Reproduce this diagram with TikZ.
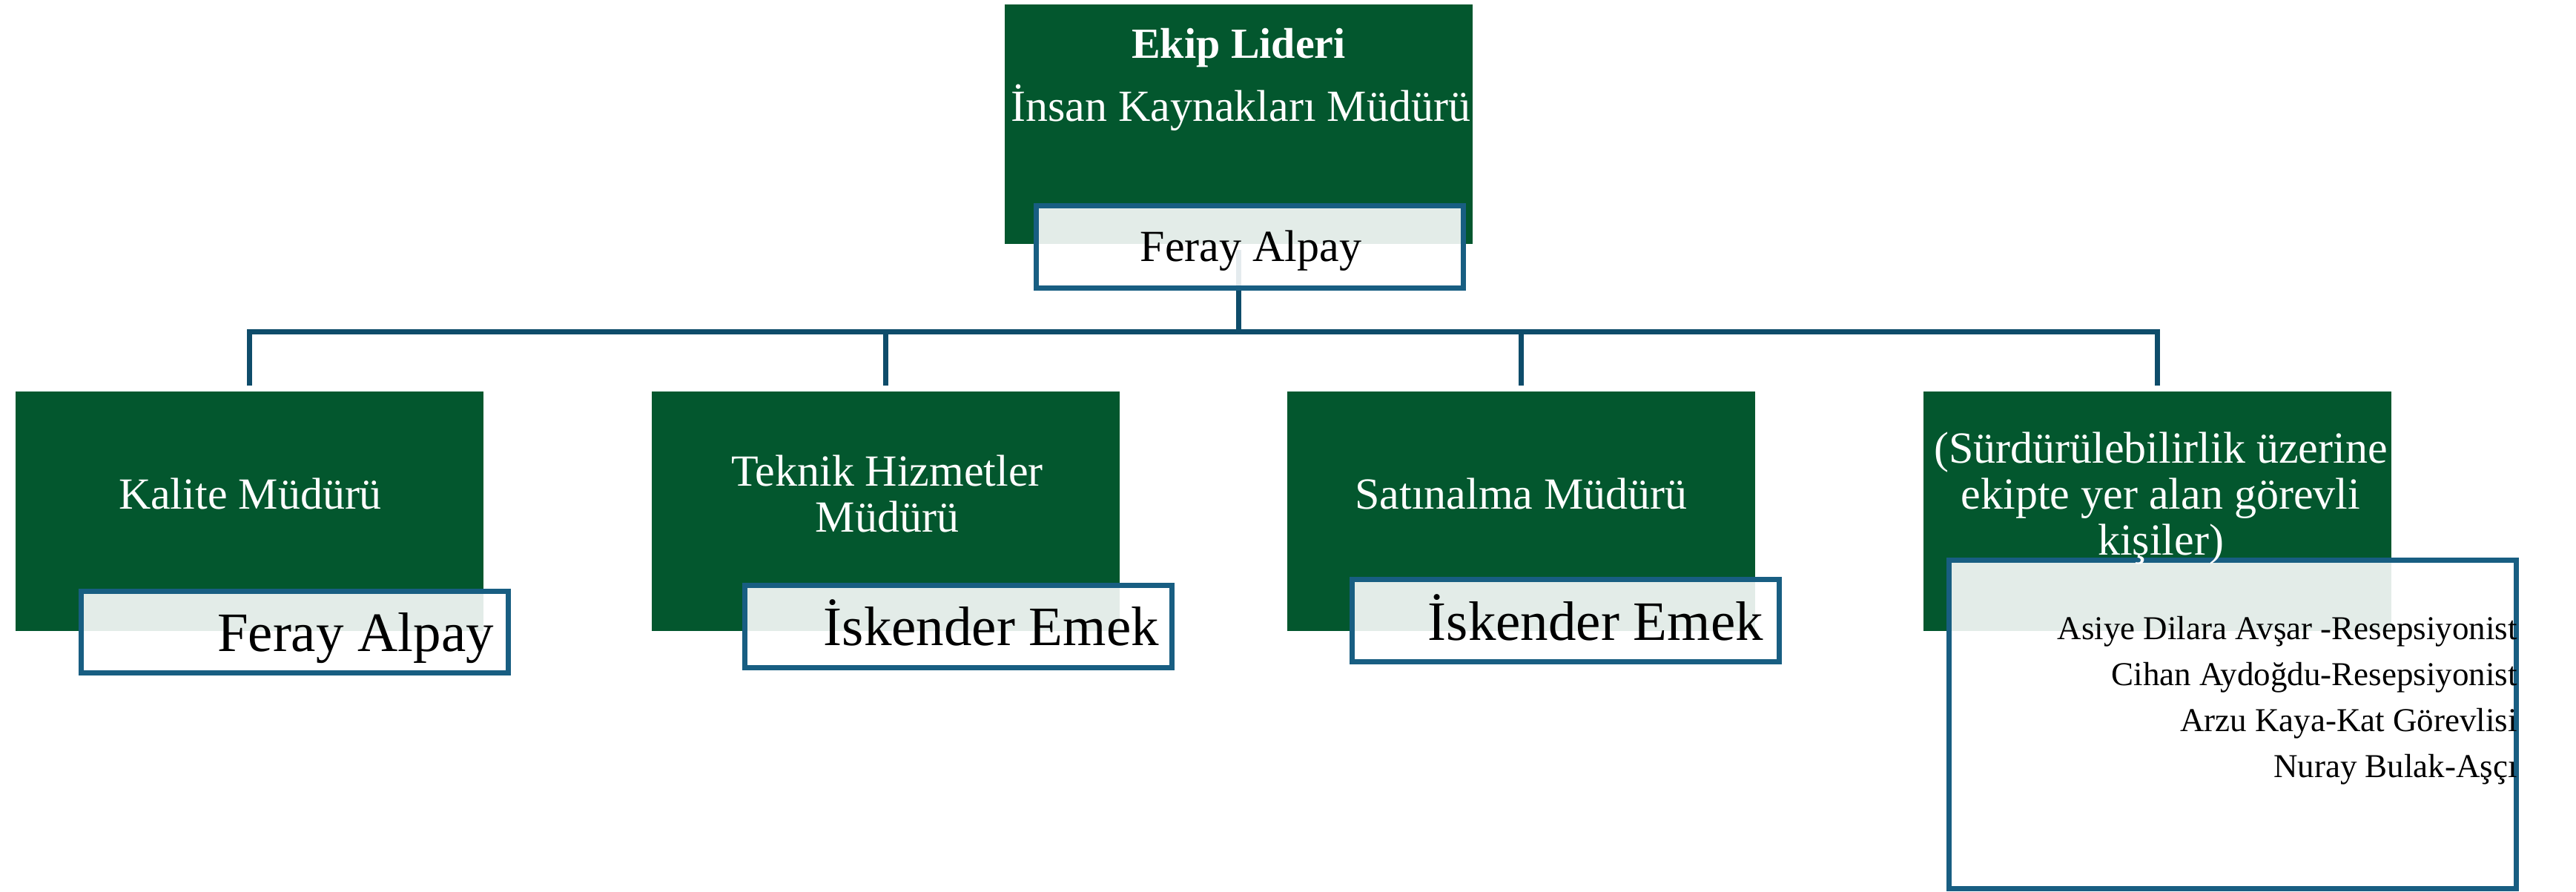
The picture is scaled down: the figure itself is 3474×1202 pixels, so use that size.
\documentclass[tikz,border=0pt]{standalone}
\usepackage{fontspec}
\setmainfont{Liberation Serif}
\definecolor{gr}{RGB}{3,87,46}
\definecolor{bd}{RGB}{24,94,130}
\definecolor{cn}{RGB}{14,76,106}
\begin{document}
\begin{tikzpicture}[x=1pt,y=-1pt,
 greenbox/.style={fill=gr, draw=none, inner sep=0pt, outer sep=0pt, minimum width=631pt, minimum height=323pt},
 namebox/.style={fill=white, fill opacity=0.89, draw=bd, draw opacity=1, line width=7pt, inner sep=0pt, outer sep=0pt, minimum width=576pt, minimum height=111pt},
 conn/.style={draw=cn, line width=7pt, line join=miter},
 wtext/.style={text=white, inner sep=0pt, font=\fontsize{60}{62}\selectfont, align=center},
 ntext/.style={text=black, inner sep=0pt, font=\fontsize{75}{80}\selectfont}
]
\useasboundingbox (0,0) rectangle (3474,1202);
% green boxes
\node[greenbox] (g0) at (1670.5,167.5) {};
\node[greenbox] (g1) at (336.5,689.5) {};
\node[greenbox] (g2) at (1194,689.5) {};
\node[greenbox] (g3) at (2051.5,689.5) {};
\node[greenbox] (g4) at (2909,689.5) {};
% connectors
\coordinate (c0) at (1670.5,337);
\coordinate (hub) at (1670.5,447);
\draw[conn] (c0) -- (hub);
\draw[conn] ([yshift=8pt]g1.north) |- (hub);
\draw[conn] ([yshift=8pt]g2.north) |- (hub);
\draw[conn] ([yshift=8pt]g3.north) |- (hub);
\draw[conn] ([yshift=8pt]g4.north) |- (hub);
% name boxes
\node[namebox] (n0) at (1685.5,333) {};
\node[namebox, minimum height=110pt] (n1) at (397.5,852.5) {};
\node[namebox, minimum height=111pt] (n2) at (1292.5,845) {};
\node[namebox, minimum height=111pt] (n3) at (2111.5,837) {};
\node[namebox, minimum width=765pt, minimum height=443pt] (n4) at (3011,977) {};
% texts in green boxes
\node[wtext, anchor=base, font=\bfseries\fontsize{58}{62}\selectfont] (t0a) at (1670.5,78) {Ekip Lideri};
\begin{scope}
\clip (g0.north west) rectangle (g0.south east);
\node[wtext, anchor=base west] (t0b) at (1363,163) {İnsan Kaynakları Müdürü};
\end{scope}
\node[wtext, anchor=base] (t1) at (337.5,686) {Kalite Müdürü};
\node[wtext, anchor=base] (t2) at (1196.5,717) {Teknik Hizmetler\\Müdürü};
\node[wtext, anchor=base] (t3) at (2051.5,686) {Satınalma Müdürü};
\begin{scope}
\clip (g4.north west) rectangle (g4.south east);
\node[wtext, anchor=base] (t4) at (2914,748) {(Sürdürülebilirlik üzerine\\ekipte yer alan görevli\\kişiler)};
\end{scope}
% names
\node[ntext, anchor=base, font=\fontsize{60}{62}\selectfont] (m0) at (1687,352) {Feray Alpay};
\node[ntext, anchor=base east] (m1) at (666,878) {Feray Alpay};
\node[ntext, anchor=base east] (m2) at (1563,870) {İskender Emek};
\node[ntext, anchor=base east] (m3) at (2378,863) {İskender Emek};
\node[ntext, anchor=base east, align=right, font=\fontsize{45}{62}\selectfont] (m4) at (3395,1048) {Asiye Dilara Avşar -Resepsiyonist\\Cihan Aydoğdu-Resepsiyonist\\Arzu Kaya-Kat Görevlisi\\Nuray Bulak-Aşçı};
\end{tikzpicture}
\end{document}
